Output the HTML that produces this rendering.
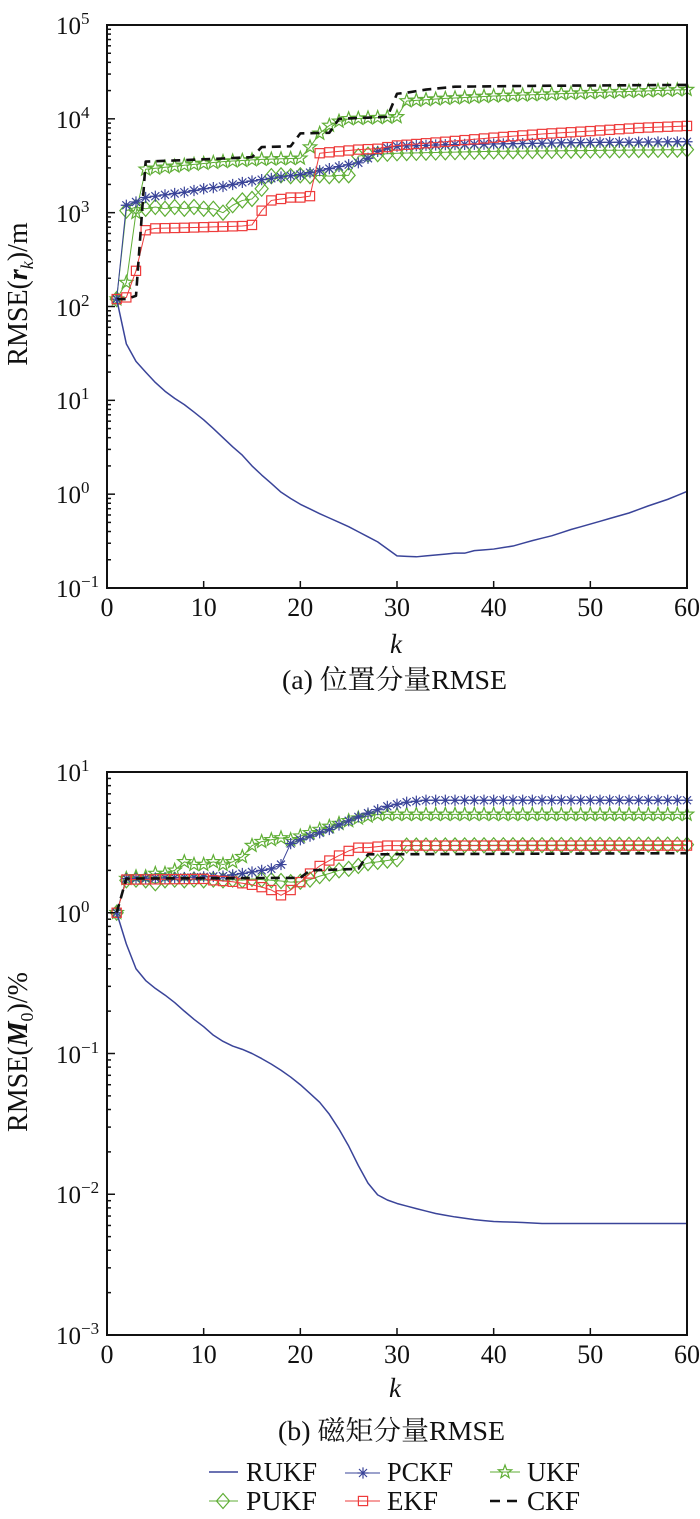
<!DOCTYPE html>
<html><head><meta charset="utf-8">
<style>
html,body{margin:0;padding:0;background:#fff}
svg{display:block}
text{font-family:"Liberation Serif","Noto Serif CJK SC",serif;fill:#111}
</style></head><body>
<svg id="c" width="700" height="1519" viewBox="0 0 700 1519" xmlns="http://www.w3.org/2000/svg">
<rect width="700" height="1519" fill="#fff"/>
<g id="data"></g>
<g fill="none" stroke="#111" stroke-width="2">
<rect x="107" y="25" width="580" height="563"/>
<rect x="107" y="772" width="580" height="563"/>
</g>
<g id="ticks" stroke="#111" stroke-width="1.5"></g>

<!-- Y tick labels (a) -->
<g font-size="25">
<text x="56" y="34">10<tspan dy="-10" font-size="17">5</tspan></text>
<text x="56" y="128">10<tspan dy="-10" font-size="17">4</tspan></text>
<text x="56" y="222">10<tspan dy="-10" font-size="17">3</tspan></text>
<text x="56" y="316">10<tspan dy="-10" font-size="17">2</tspan></text>
<text x="56" y="409">10<tspan dy="-10" font-size="17">1</tspan></text>
<text x="56" y="503">10<tspan dy="-10" font-size="17">0</tspan></text>
<text x="56" y="597">10<tspan dy="-10" font-size="17">−1</tspan></text>
</g>
<!-- Y tick labels (b) -->
<g font-size="25">
<text x="56" y="781">10<tspan dy="-10" font-size="17">1</tspan></text>
<text x="56" y="922">10<tspan dy="-10" font-size="17">0</tspan></text>
<text x="56" y="1063">10<tspan dy="-10" font-size="17">−1</tspan></text>
<text x="56" y="1203">10<tspan dy="-10" font-size="17">−2</tspan></text>
<text x="56" y="1344">10<tspan dy="-10" font-size="17">−3</tspan></text>
</g>
<!-- X tick labels (a) -->
<g font-size="26" text-anchor="middle">
<text x="107" y="616">0</text>
<text x="203.7" y="616">10</text>
<text x="300.3" y="616">20</text>
<text x="397" y="616">30</text>
<text x="493.7" y="616">40</text>
<text x="590.3" y="616">50</text>
<text x="687" y="616">60</text>
</g>
<!-- X tick labels (b) -->
<g font-size="26" text-anchor="middle">
<text x="107" y="1363">0</text>
<text x="203.7" y="1363">10</text>
<text x="300.3" y="1363">20</text>
<text x="397" y="1363">30</text>
<text x="493.7" y="1363">40</text>
<text x="590.3" y="1363">50</text>
<text x="687" y="1363">60</text>
</g>
<!-- axis labels -->
<text x="396" y="653" font-size="27" font-style="italic" text-anchor="middle">k</text>
<text x="395" y="1397" font-size="27" font-style="italic" text-anchor="middle">k</text>

<text transform="translate(27,294) rotate(-90)" font-size="28" text-anchor="middle">RMSE(<tspan font-weight="bold" font-style="italic">r</tspan><tspan font-style="italic" font-size="18" dy="6">k</tspan><tspan dy="-6">)/m</tspan></text>
<text transform="translate(27,1052) rotate(-90)" font-size="28" text-anchor="middle">RMSE(<tspan font-weight="bold" font-style="italic">M</tspan><tspan font-size="18" dy="6">0</tspan><tspan dy="-6">)/%</tspan></text>

<!-- captions -->
<text x="282" y="689" font-size="27" textLength="225" lengthAdjust="spacingAndGlyphs">(a) 位置分量RMSE</text>
<text x="278" y="1440" font-size="27" textLength="227" lengthAdjust="spacingAndGlyphs">(b) 磁矩分量RMSE</text>

<!-- legend -->
<g id="legend"></g>
<g font-size="27">
<text x="246" y="1481" textLength="71" lengthAdjust="spacingAndGlyphs">RUKF</text>
<text x="246" y="1510" textLength="71" lengthAdjust="spacingAndGlyphs">PUKF</text>
<text x="387" y="1481" textLength="66" lengthAdjust="spacingAndGlyphs">PCKF</text>
<text x="387" y="1510" textLength="51" lengthAdjust="spacingAndGlyphs">EKF</text>
<text x="527" y="1481" textLength="53" lengthAdjust="spacingAndGlyphs">UKF</text>
<text x="527" y="1510" textLength="53" lengthAdjust="spacingAndGlyphs">CKF</text>
</g>
</svg>
<script>
(function(){
var NS="http://www.w3.org/2000/svg";
var data=document.getElementById('data'),ticks=document.getElementById('ticks'),leg=document.getElementById('legend');
function el(tag,a,p){var e=document.createElementNS(NS,tag);for(var k in a)e.setAttribute(k,a[k]);p.appendChild(e);return e;}
function series(pts){var out=[];for(var k=1;k<=60;k++){var v=pts[pts.length-1][1];for(var i=0;i<pts.length-1;i++){var a=pts[i],b=pts[i+1];if(k>=a[0]&&k<=b[0]){var t=(k-a[0])/(b[0]-a[0]);v=Math.exp(Math.log(a[1])*(1-t)+Math.log(b[1])*t);break;}}out.push(v);}return out;}
var BLUE="#3a4499",GREEN="#5fae35",RED="#ee3b3b",BLACK="#111";
function X(k){return 107+k*580/60;}
function mkY(top,bot,lmax,lmin){return function(v){return top+(lmax-Math.log10(v))/(lmax-lmin)*(bot-top);};}
function marker(type,x,y,col,p){
 var sw=1.2;
 if(type==='d'){el('polygon',{points:(x)+','+(y-7.5)+' '+(x+6.5)+','+y+' '+x+','+(y+7.5)+' '+(x-6.5)+','+y,fill:'none',stroke:col,'stroke-width':sw},p);}
 else if(type==='s'){el('rect',{x:x-4.6,y:y-4.6,width:9.2,height:9.2,fill:'none',stroke:col,'stroke-width':sw},p);}
 else if(type==='a'){var r=5.6,d=4.0;el('path',{d:'M'+(x-r)+' '+y+'H'+(x+r)+'M'+x+' '+(y-r)+'V'+(y+r)+'M'+(x-d)+' '+(y-d)+'L'+(x+d)+' '+(y+d)+'M'+(x-d)+' '+(y+d)+'L'+(x+d)+' '+(y-d),stroke:col,'stroke-width':sw,fill:'none'},p);el('circle',{cx:x,cy:y,r:1.6,fill:col},p);}
 else if(type==='p'){var pts=[];for(var i=0;i<10;i++){var ang=-Math.PI/2+i*Math.PI/5;var rr=(i%2===0)?7:2.9;pts.push((x+rr*Math.cos(ang)).toFixed(2)+','+(y+rr*Math.sin(ang)).toFixed(2));}el('polygon',{points:pts.join(' '),fill:'none',stroke:col,'stroke-width':sw},p);}
}
function draw(vals,Y,opt){
 var d='';for(var i=0;i<60;i++){d+=(i?'L':'M')+X(i+1).toFixed(2)+' '+Y(vals[i]).toFixed(2);}
 var a={d:d,fill:'none',stroke:opt.col,'stroke-width':opt.w||1,'stroke-linejoin':'round'};
 if(opt.dash)a['stroke-dasharray']=opt.dash;
 el('path',a,data);
 if(opt.m){for(var i=0;i<60;i++)marker(opt.m,X(i+1),Y(vals[i]),opt.col,data);}
}
function axisTicks(top,bot,lmax,lmin){
 var D=(bot-top)/(lmax-lmin);
 for(var dcd=lmin;dcd<=lmax;dcd++){var y=bot-(dcd-lmin)*D;el('line',{x1:107,x2:115,y1:y,y2:y},ticks);
  if(dcd<lmax){for(var m=2;m<=9;m++){var yy=y-Math.log10(m)*D;el('line',{x1:107,x2:111,y1:yy,y2:yy},ticks);}}}
 for(var k=10;k<=50;k+=10){el('line',{x1:X(k),x2:X(k),y1:bot,y2:bot-7},ticks);}
}
/* ---------- plot (a) ---------- */
var Ya=mkY(25,588,5,-1);
axisTicks(25,588,5,-1);
var PUKFa=series([[1,120],[2,1050],[3,1150],[4,1100],[5,1150],[6,1100],[7,1150],[8,1100],[9,1150],[10,1100],[11,1100],[12,1000],[13,1200],[14,1350],[15,1400],[16,1800],[17,2450],[18,2500],[19,2450],[20,2500],[21,2450],[22,2500],[23,2450],[24,2500],[25,2500],[26,4000],[27,4150],[28,4200],[30,4300],[40,4500],[50,4600],[60,4700]]);
var UKFa=series([[1,120],[2,180],[3,1000],[4,2900],[8,3200],[12,3500],[16,3700],[20,3800],[21,5000],[22,7000],[23,8500],[24,9400],[25,10000],[30,10500],[31,15500],[35,16500],[40,17500],[50,19000],[60,20500]]);
var PCKFa=series([[1,120],[2,1200],[3,1300],[4,1450],[6,1550],[8,1650],[10,1800],[12,1900],[14,2100],[16,2250],[18,2400],[20,2550],[22,2800],[24,3100],[26,3400],[27,3800],[28,4500],[29,4900],[30,5100],[35,5300],[40,5400],[50,5600],[60,5700]]);
var EKFa=series([[1,120],[2,125],[3,240],[4,650],[5,680],[8,690],[10,700],[12,710],[14,720],[15,740],[16,1050],[17,1350],[18,1400],[19,1450],[20,1450],[21,1500],[22,4300],[24,4500],[26,4700],[28,4800],[30,5200],[35,5700],[40,6300],[45,6900],[50,7400],[55,8000],[60,8400]]);
var CKFa=series([[1,120],[2,120],[3,130],[4,3500],[10,3700],[15,3900],[16,5000],[19,5100],[20,7000],[23,7100],[24,10000],[29,10500],[30,18500],[31,19000],[33,20500],[36,22000],[45,22500],[60,23000]]);
var RUKFa=series([[1,120],[2,40],[3,26],[4,20],[5,15.5],[6,12.5],[7,10.5],[8,9],[9,7.5],[10,6.2],[11,5],[12,4],[13,3.2],[14,2.6],[15,2.0],[16,1.6],[17,1.3],[18,1.05],[19,0.9],[20,0.78],[22,0.62],[25,0.45],[28,0.31],[30,0.22],[32,0.215],[34,0.225],[36,0.235],[37,0.235],[38,0.25],[40,0.26],[42,0.28],[44,0.32],[46,0.36],[48,0.42],[50,0.48],[52,0.55],[54,0.63],[56,0.75],[58,0.88],[60,1.07]]);
draw(PUKFa,Ya,{col:GREEN,m:'d'});
draw(UKFa,Ya,{col:GREEN,m:'p'});
draw(PCKFa,Ya,{col:BLUE,m:'a'});
draw(EKFa,Ya,{col:RED,m:'s'});
draw(CKFa,Ya,{col:BLACK,w:2.6,dash:'9,6'});
draw(RUKFa,Ya,{col:BLUE,w:1.5});
/* ---------- plot (b) ---------- */
var Yb=mkY(772,1335,1,-3);
axisTicks(772,1335,1,-3);
var PUKFb=series([[1,1.0],[2,1.7],[3,1.72],[4,1.7],[5,1.62],[6,1.7],[7,1.72],[8,1.7],[9,1.72],[10,1.7],[11,1.72],[12,1.7],[13,1.72],[14,1.7],[15,1.74],[16,1.72],[17,1.7],[18,1.68],[19,1.65],[20,1.66],[21,1.72],[22,1.82],[23,1.9],[24,2.0],[25,2.05],[26,2.15],[27,2.25],[28,2.3],[29,2.35],[30,2.4],[31,3.0],[60,3.05]]);
var UKFb=series([[1,1.0],[2,1.75],[3,1.8],[4,1.8],[5,1.9],[6,1.9],[7,2.0],[8,2.3],[9,2.2],[10,2.2],[11,2.3],[12,2.2],[13,2.3],[14,2.5],[15,3.0],[16,3.2],[17,3.3],[18,3.4],[19,3.3],[20,3.5],[21,3.7],[22,3.9],[23,4.1],[24,4.3],[25,4.5],[26,4.7],[27,4.85],[28,5.0],[60,5.0]]);
var PCKFb=series([[1,1.0],[2,1.75],[8,1.78],[12,1.82],[14,1.9],[16,2.0],[17,2.05],[18,2.2],[19,3.1],[20,3.3],[21,3.5],[22,3.7],[23,3.9],[24,4.2],[25,4.5],[26,4.8],[27,5.1],[28,5.4],[29,5.7],[30,5.9],[31,6.1],[32,6.2],[33,6.3],[60,6.3]]);
var EKFb=series([[1,1.0],[2,1.72],[10,1.74],[11,1.7],[12,1.68],[13,1.66],[14,1.62],[15,1.58],[16,1.52],[17,1.45],[18,1.33],[19,1.45],[20,1.65],[21,1.9],[22,2.15],[23,2.35],[24,2.55],[25,2.75],[26,2.9],[27,2.9],[28,2.95],[29,3.0],[60,3.0]]);
var CKFb=series([[1,1.0],[2,1.75],[20,1.77],[21,2.0],[26,2.05],[27,2.6],[60,2.65]]);
var RUKFb=series([[1,1.0],[2,0.6],[3,0.4],[4,0.33],[5,0.29],[6,0.26],[7,0.23],[8,0.2],[9,0.175],[10,0.155],[11,0.135],[12,0.122],[13,0.113],[14,0.107],[15,0.1],[16,0.092],[17,0.084],[18,0.076],[19,0.068],[20,0.06],[21,0.052],[22,0.045],[23,0.037],[24,0.029],[25,0.022],[26,0.016],[27,0.012],[28,0.0099],[29,0.0091],[30,0.0086],[32,0.0079],[34,0.0073],[36,0.0069],[38,0.0066],[40,0.0064],[43,0.0063],[45,0.0062],[60,0.0062]]);
draw(PUKFb,Yb,{col:GREEN,m:'d'});
draw(UKFb,Yb,{col:GREEN,m:'p'});
draw(PCKFb,Yb,{col:BLUE,m:'a'});
draw(EKFb,Yb,{col:RED,m:'s'});
draw(CKFb,Yb,{col:BLACK,w:2.6,dash:'9,6'});
draw(RUKFb,Yb,{col:BLUE,w:1.5});
/* ---------- legend ---------- */
el('line',{x1:209,x2:238,y1:1472,y2:1472,stroke:BLUE,'stroke-width':1.5},leg);
el('line',{x1:209,x2:238,y1:1501,y2:1501,stroke:GREEN,'stroke-width':1},leg);marker('d',223,1501,GREEN,leg);
el('line',{x1:345,x2:380,y1:1473,y2:1473,stroke:BLUE,'stroke-width':1},leg);marker('a',363,1473,BLUE,leg);
el('line',{x1:345,x2:380,y1:1501,y2:1501,stroke:RED,'stroke-width':1},leg);marker('s',363,1501,RED,leg);
el('line',{x1:490,x2:520,y1:1472,y2:1472,stroke:GREEN,'stroke-width':1},leg);marker('p',505,1472,GREEN,leg);
el('line',{x1:490,x2:521,y1:1501,y2:1501,stroke:BLACK,'stroke-width':2.4,'stroke-dasharray':'10,7'},leg);
})();
</script>
</body></html>
